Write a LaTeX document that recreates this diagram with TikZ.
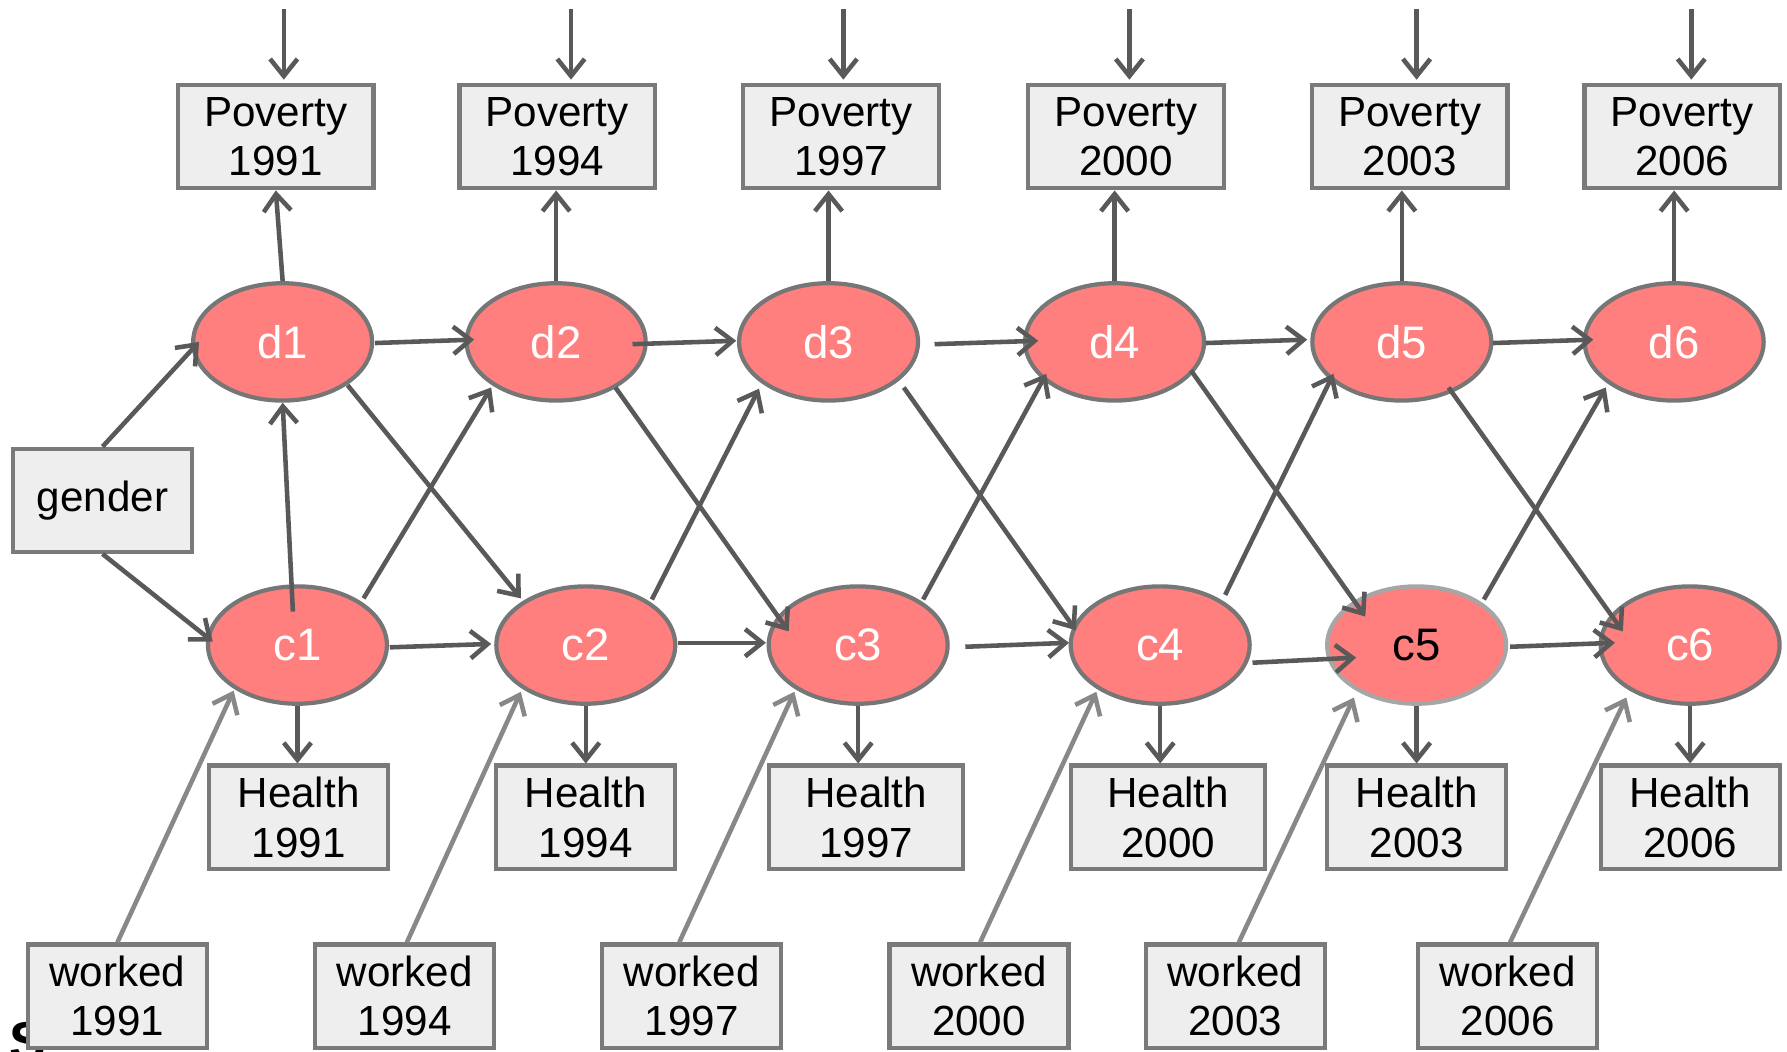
\documentclass[tikz,border=0pt]{standalone}
\usepackage{fontspec}
\setmainfont{Liberation Sans}
\usetikzlibrary{shapes.geometric,arrows.meta,calc}
\definecolor{boxfill}{HTML}{EEEEEE}
\definecolor{boxline}{HTML}{7A7A7A}
\definecolor{ellfill}{HTML}{FF7F7F}
\definecolor{ellline}{HTML}{767676}
\definecolor{arrc}{HTML}{595959}
\definecolor{warrc}{HTML}{888888}
\definecolor{cfiveline}{HTML}{A6A6A6}
\begin{document}
\begin{tikzpicture}[x=1pt,y=-1pt,
  box/.style={draw=boxline, fill=boxfill, line width=3.7pt, rectangle, inner sep=0pt,
    minimum height=90.5pt, align=center, font=\fontsize{37}{43.5}\selectfont},
  pbox/.style={box, minimum width=171.5pt},
  sbox/.style={box, minimum width=157pt},
  wbox/.style={box, minimum width=170.5pt},
  ell/.style={ellipse, draw=ellline, fill=ellfill, line width=3.7pt, minimum width=157pt,
    minimum height=103pt, inner sep=0pt, text=white, font=\fontsize{40}{48}\selectfont},
  arr/.style={draw=arrc, line width=4pt, -{Straight Barb[length=15pt,width=24pt]}},
  warr/.style={arr, draw=warrc},
]
\useasboundingbox (0,0) rectangle (1568,923);

% stray fragment
\node[anchor=north west, inner sep=0pt, font=\fontsize{48}{56}\selectfont\bfseries] (frag) at (8,897) {S};

% Poverty boxes
\node[pbox] (P1) at (242,120) {Poverty\\1991};
\node[pbox] (P2) at (489,120) {Poverty\\1994};
\node[pbox] (P3) at (738,120) {Poverty\\1997};
\node[pbox] (P4) at (988,120) {Poverty\\2000};
\node[pbox] (P5) at (1237,120) {Poverty\\2003};
\node[pbox] (P6) at (1476,120) {Poverty\\2006};

% d ellipses
\node[ell] (d1) at (248,300) {d1};
\node[ell] (d2) at (488,300) {d2};
\node[ell] (d3) at (727,300) {d3};
\node[ell] (d4) at (978,300) {d4};
\node[ell] (d5) at (1230,300) {d5};
\node[ell] (d6) at (1469,300) {d6};

% c ellipses
\node[ell] (c1) at (261,566) {c1};
\node[ell] (c2) at (514,566) {c2};
\node[ell] (c3) at (753,566) {c3};
\node[ell] (c4) at (1018,566) {c4};
\node[ell, draw=cfiveline, text=black] (c5) at (1243,566) {c5};
\node[ell] (c6) at (1483,566) {c6};

% gender
\node[sbox] (g) at (90,439) {gender};

% Health boxes
\node[sbox] (H1) at (262,717) {Health\\1991};
\node[sbox] (H2) at (514,717) {Health\\1994};
\node[wbox] (H3) at (760,717) {Health\\1997};
\node[wbox] (H4) at (1025,717) {Health\\2000};
\node[sbox] (H5) at (1243,717) {Health\\2003};
\node[sbox] (H6) at (1483,717) {Health\\2006};

% worked boxes
\node[sbox] (W1) at (103,874) {worked\\1991};
\node[sbox] (W2) at (355,874) {worked\\1994};
\node[sbox] (W3) at (607,874) {worked\\1997};
\node[sbox] (W4) at (859,874) {worked\\2000};
\node[sbox] (W5) at (1084,874) {worked\\2003};
\node[sbox] (W6) at (1323,874) {worked\\2006};

% top incoming arrows
\coordinate (t1) at (249,8);
\coordinate (t2) at (501,8);
\coordinate (t3) at (740,8);
\coordinate (t4) at (991,8);
\coordinate (t5) at (1243,8);
\coordinate (t6) at (1484,8);
\draw[arr] (t1) -- ($(t1 |- P1.north)+(0,-3)$);
\draw[arr] (t2) -- ($(t2 |- P2.north)+(0,-3)$);
\draw[arr] (t3) -- ($(t3 |- P3.north)+(0,-3)$);
\draw[arr] (t4) -- ($(t4 |- P4.north)+(0,-3)$);
\draw[arr] (t5) -- ($(t5 |- P5.north)+(0,-3)$);
\draw[arr] (t6) -- ($(t6 |- P6.north)+(0,-3)$);

% d -> Poverty
\draw[arr] (d1.north) -- (P1.south);
\draw[arr] (d2.north) -- (d2.north |- P2.south);
\draw[arr] (d3.north) -- (d3.north |- P3.south);
\draw[arr] (d4.north) -- (d4.north |- P4.south);
\draw[arr] (d5.north) -- (d5.north |- P5.south);
\draw[arr] (d6.north) -- (d6.north |- P6.south);

% c -> Health
\draw[arr] (c1.south) -- (c1.south |- H1.north);
\draw[arr] (c2.south) -- (c2.south |- H2.north);
\draw[arr] (c3.south) -- (c3.south |- H3.north);
\draw[arr] (c4.south) -- (c4.south |- H4.north);
\draw[arr] (c5.south) -- (c5.south |- H5.north);
\draw[arr] (c6.south) -- (c6.south |- H6.north);

% gender
\draw[arr] (g.north) -- ($(d1.west)+(7,0)$);
\draw[arr] (g.south) -- ($(c1.west)+(6,-3)$);

% c1 -> d1
\draw[arr] ($(c1.north)+(-4,24)$) -- (d1.south);

% horizontal d
\draw[arr] ($(d1)+(81,1)$) -- ($(d2)+(-72,-2)$);
\draw[arr] ($(d2)+(67,2)$) -- ($(d3)+(-81,-1)$);
\draw[arr] ($(d3)+(93,2)$) -- ($(d4)+(-67,-1)$);
\draw[arr] ($(d4)+(80,1)$) -- ($(d5)+(-83,-2)$);
\draw[arr] ($(d5)+(80,1)$) -- ($(d6)+(-71,-2)$);

% horizontal c
\draw[arr] ($(c1)+(81,2)$) -- ($(c2)+(-83,-1)$);
\draw[arr] ($(c2)+(81,-2)$) -- ($(c3)+(-81,-2)$);
\draw[arr] ($(c3)+(94,1.5)$) -- ($(c4)+(-80,-2)$);
\draw[arr] ($(c4)+(81,15.5)$) -- ($(c5)+(-53,11)$);
\draw[arr] ($(c5)+(82,1.5)$) -- ($(c6)+(-66,-2)$);

% d -> c diagonals
\draw[arr] ($(d1)+(57,38)$) -- ($(c2)+(-57,-41)$);
\draw[arr] ($(d2)+(52,40)$) -- ($(c3)+(-61,-12)$);
\draw[arr] ($(d3)+(66,40)$) -- ($(c4)+(-74,-13)$);
\draw[arr] ($(d4)+(67,25)$) -- ($(c5)+(-45,-25)$);
\draw[arr] ($(d5)+(41,40)$) -- ($(c6)+(-59,-12)$);

% c -> d diagonals
\draw[arr] ($(c1)+(58,-41)$) -- ($(d2)+(-57,40)$);
\draw[arr] ($(c2)+(58,-40)$) -- ($(d3)+(-61,41)$);
\draw[arr] ($(c3)+(57,-40)$) -- ($(d4)+(-60,28)$);
\draw[arr] ($(c4)+(57,-44)$) -- ($(d5)+(-60,28)$);
\draw[arr] ($(c5)+(59,-40)$) -- ($(d6)+(-60,40)$);

% worked -> c
\draw[warr] (W1.north) -- ($(c1)+(-56,40)$);
\draw[warr] ($(W2.north)+(2,0)$) -- ($(c2)+(-57,41)$);
\draw[warr] ($(W3.north)+(-11,0)$) -- ($(c3)+(-56,41)$);
\draw[warr] ($(W4.north)+(1,0)$) -- ($(c4)+(-56,41)$);
\draw[warr] ($(W5.north)+(3,0)$) -- ($(c5)+(-55,46)$);
\draw[warr] ($(W6.north)+(2,0)$) -- ($(c6)+(-56,46)$);
\end{tikzpicture}
\end{document}
